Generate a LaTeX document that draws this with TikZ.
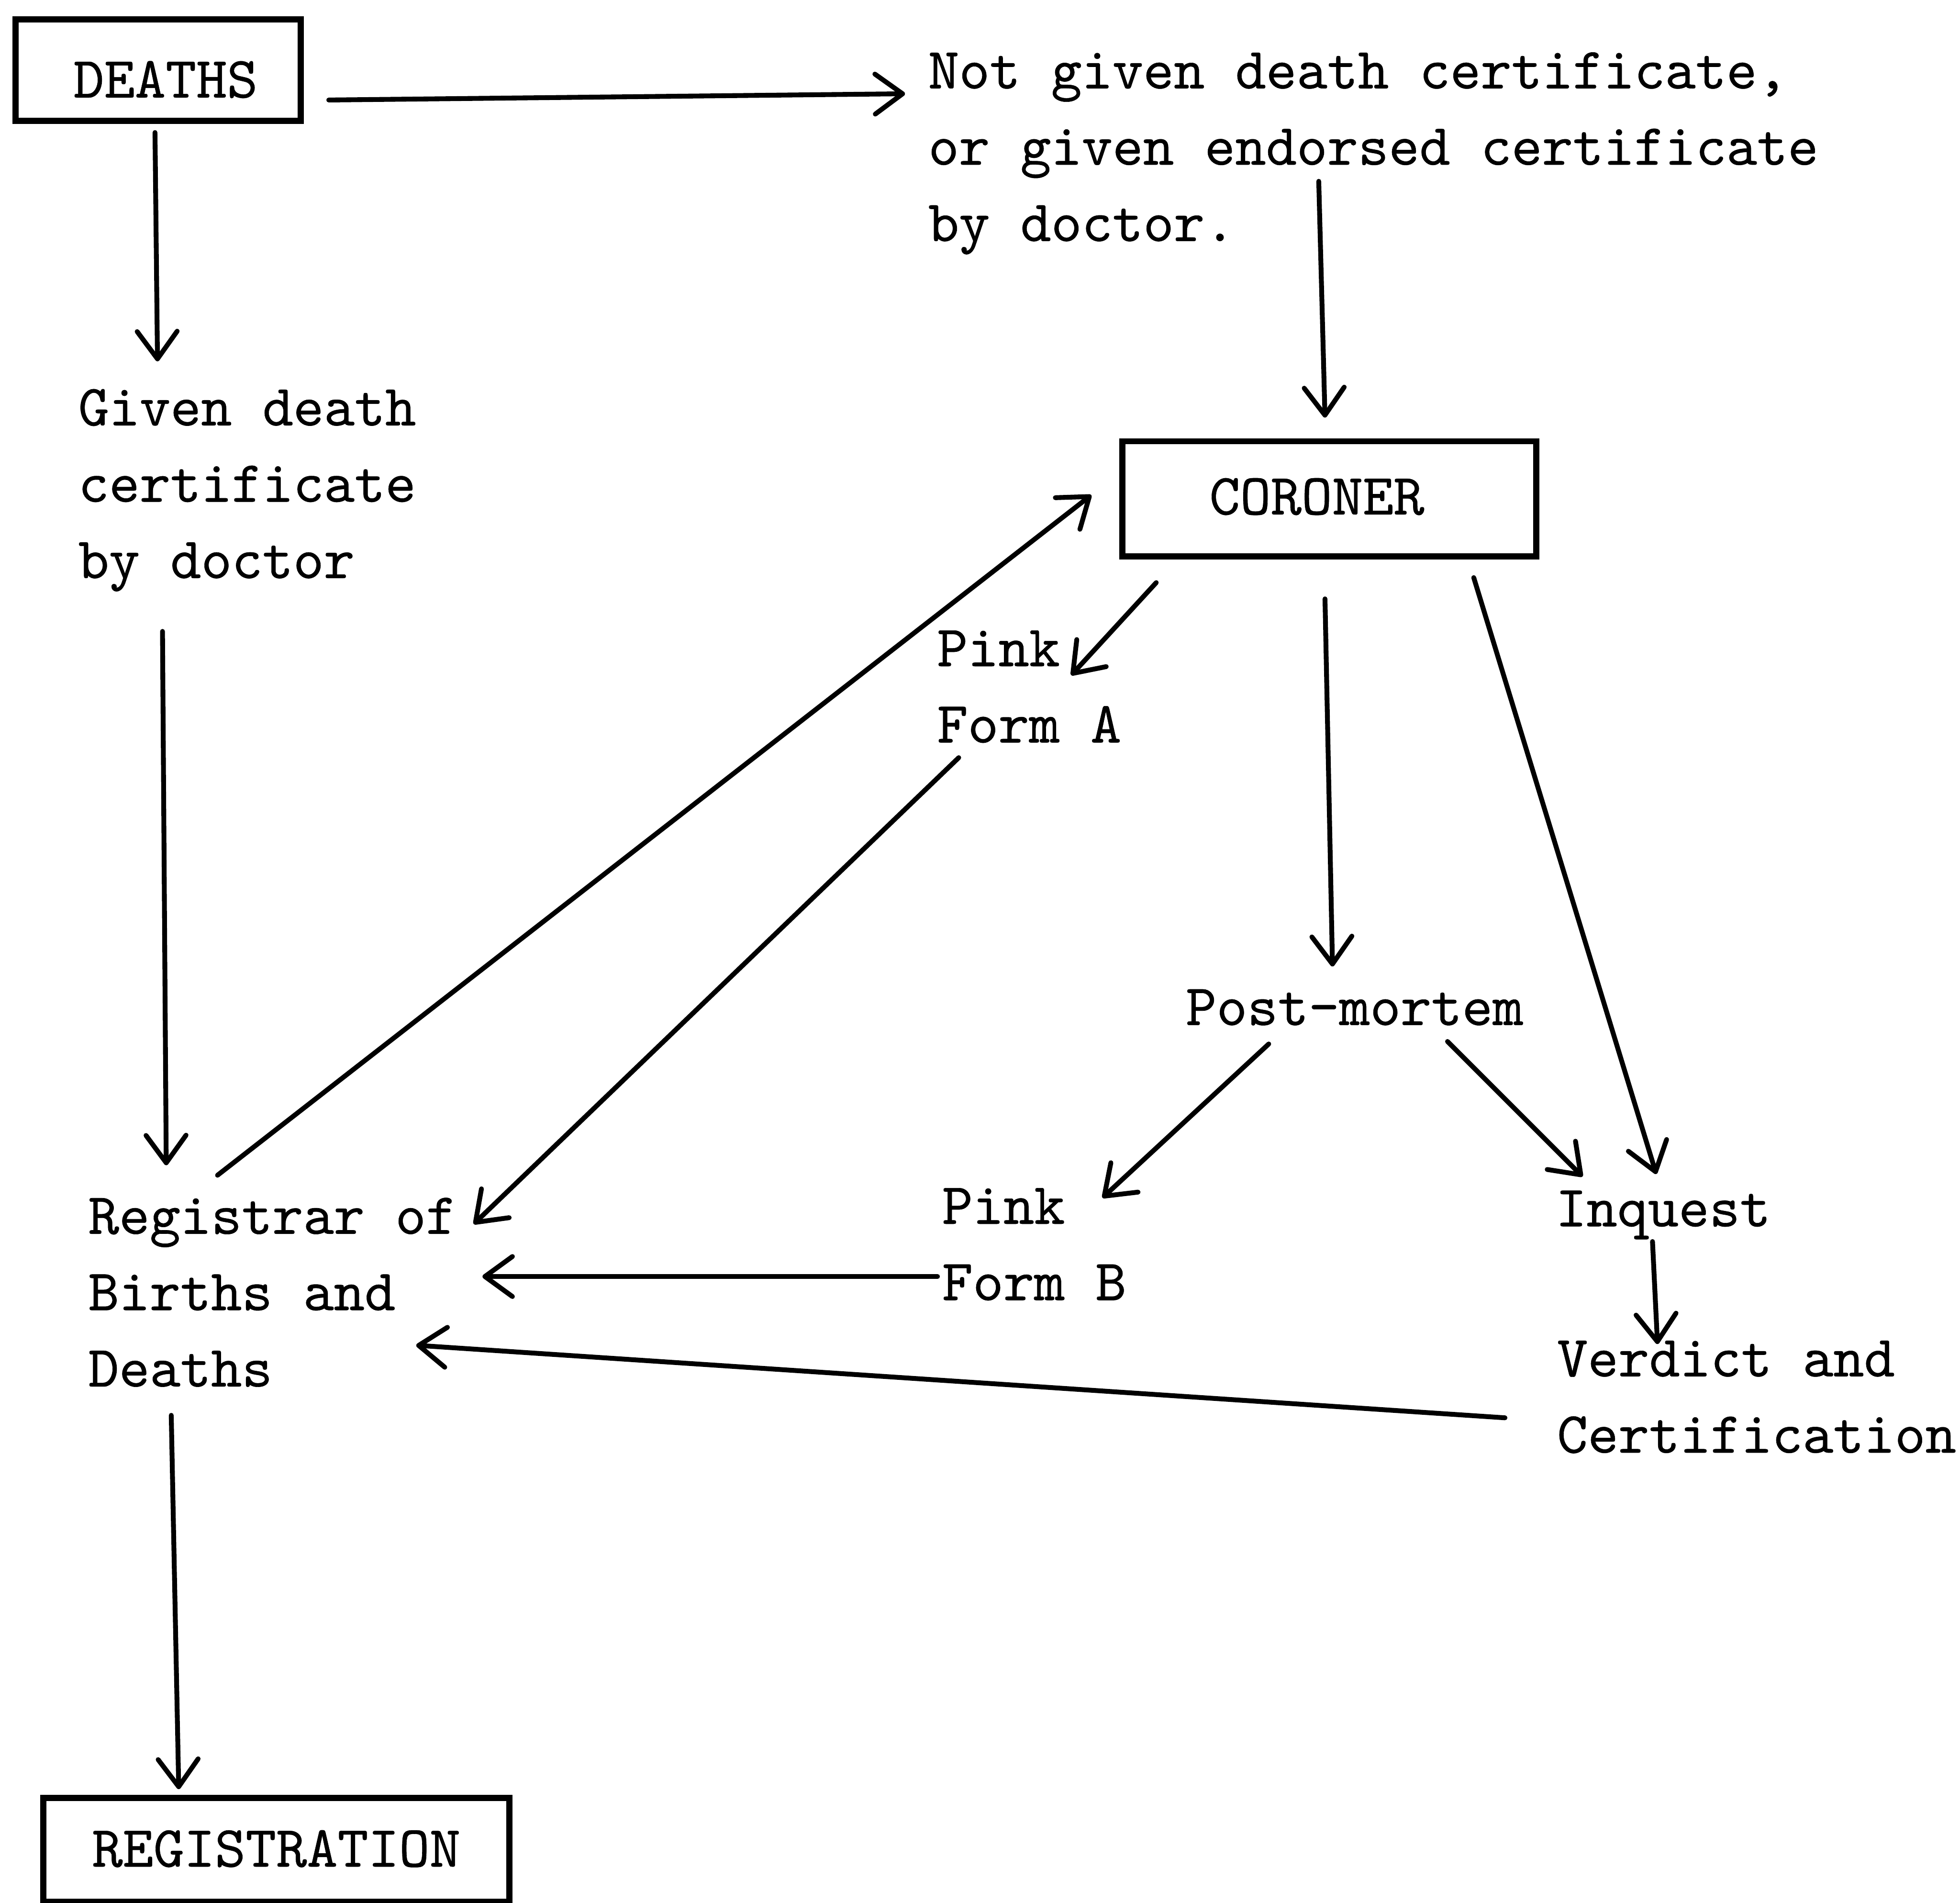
\documentclass[tikz,border=0pt]{standalone}
\usepackage{fontspec}
\setmonofont{lmmono10-regular.otf}[FakeBold=0.5]
\usetikzlibrary{arrows.meta}
\begin{document}
\begin{tikzpicture}[x=0.01cm,y=-0.01cm,
  tw/.style={font=\ttfamily\fontsize{13.3}{17.36}\selectfont},
  txt/.style={tw,anchor=north west,inner sep=0pt,align=left},
  boxn/.style={tw,draw,line width=1.4pt,inner sep=0pt,text depth=0pt},
  arr/.style={line width=1.1pt,line cap=round,-{Straight Barb[length=0.22cm,width=0.32cm,round]}}]
\useasboundingbox (0,0) rectangle (1568,1522);
% boxes
\node[boxn,minimum width=2.28cm,minimum height=0.81cm,text height=0.44cm] (deaths) at (126.5,56) {\hspace*{0.12cm}DEATHS};
\node[boxn,minimum width=3.31cm,minimum height=0.92cm,text height=0.25cm] (coroner) at (1063.5,399) {CORONER\hspace*{0.2cm}};
\node[boxn,minimum width=3.725cm,minimum height=0.83cm,text height=0.27cm] (registration) at (221,1479.5) {REGISTRATION};
% text nodes
\node[txt] (notgiven) at (742,34.85) {\rule{0pt}{10pt}Not given death certificate,\\or given endorsed certificate\\by doctor.};
\node[txt] (given) at (62,304.4) {\rule{0pt}{10pt}Given death\\certificate\\by doctor};
\node[txt] (pinka) at (749,497) {\rule{0pt}{10pt}Pink\\Form A};
\node[txt] (registrar) at (70,951) {\rule{0pt}{10pt}Registrar of\\Births and\\Deaths};
\node[txt] (postmortem) at (948,784) {\rule{0pt}{10pt}Post-mortem};
\node[txt] (pinkb) at (753,943) {\rule{0pt}{10pt}Pink\\Form B};
\node[txt] (inquest) at (1244,945) {\rule{0pt}{10pt}Inquest};
\node[txt] (verdict) at (1245,1065) {\rule{0pt}{10pt}Verdict and\\Certification};
% connector ends
\coordinate (a1s) at (263,80);   \coordinate (a1e) at (724,75);
\coordinate (a2s) at (124,106);  \coordinate (a2e) at (126,289);
\coordinate (a3s) at (1055,145); \coordinate (a3e) at (1060,334);
\coordinate (a4s) at (130,505);  \coordinate (a4e) at (133,932);
\coordinate (a5s) at (925,466);  \coordinate (a5e) at (857,540);
\coordinate (a6s) at (174,940);  \coordinate (a6e) at (873,396);
\coordinate (a7s) at (767,606);  \coordinate (a7e) at (379,979);
\coordinate (a8s) at (1060,479); \coordinate (a8e) at (1066,773);
\coordinate (a9s) at (1179,462); \coordinate (a9e) at (1325,939);
\coordinate (a10s) at (1015,835); \coordinate (a10e) at (882,958);
\coordinate (a11s) at (1158,833); \coordinate (a11e) at (1266,941);
\coordinate (a12s) at (750,1021); \coordinate (a12e) at (386,1021);
\coordinate (a13s) at (1322,993); \coordinate (a13e) at (1326,1075);
\coordinate (a14s) at (1204,1134); \coordinate (a14e) at (333,1076);
\coordinate (a15s) at (137,1132); \coordinate (a15e) at (143,1431);
% connectors
\draw[arr] (a1s) -- (a1e);
\draw[arr] (a2s) -- (a2e);
\draw[arr] (a3s) -- (a3e);
\draw[arr] (a4s) -- (a4e);
\draw[arr] (a5s) -- (a5e);
\draw[arr] (a6s) -- (a6e);
\draw[arr] (a7s) -- (a7e);
\draw[arr] (a8s) -- (a8e);
\draw[arr] (a9s) -- (a9e);
\draw[arr] (a10s) -- (a10e);
\draw[arr] (a11s) -- (a11e);
\draw[arr] (a12s) -- (a12e);
\draw[arr] (a13s) -- (a13e);
\draw[arr] (a14s) -- (a14e);
\draw[arr] (a15s) -- (a15e);
\end{tikzpicture}
\end{document}
